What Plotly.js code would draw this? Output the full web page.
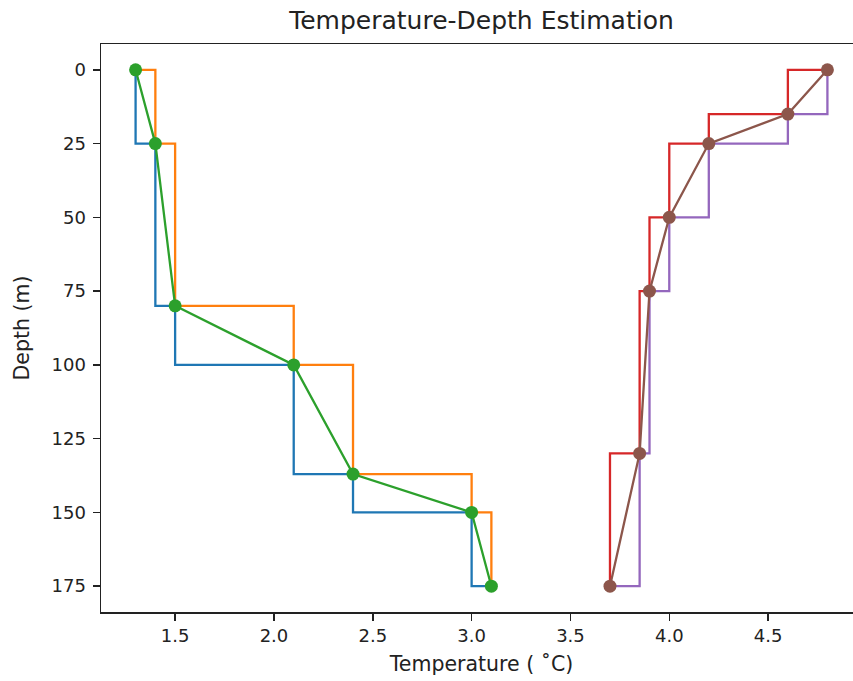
<!DOCTYPE html>
<html>
<head>
<meta charset="utf-8">
<script src="https://cdn.plot.ly/plotly-3.0.1.min.js"></script>
<style>
html, body { margin: 0; padding: 0; overflow: hidden; background: #fff; }
#chart { width: 880px; height: 681px; }
</style>
</head>
<body>
<div id="chart"></div>
<script>
// Left profile
const leftTemp = [1.3, 1.4, 1.5, 2.1, 2.4, 3.0, 3.1];
const leftDepth = [0, 25, 80, 100, 137, 150, 175];
// Right profile
const rightTemp = [4.8, 4.6, 4.2, 4.0, 3.9, 3.85, 3.7];
const rightDepth = [0, 15, 25, 50, 75, 130, 175];

const xTicks = [1.5, 2.0, 2.5, 3.0, 3.5, 4.0, 4.5];
const yTicks = [0, 25, 50, 75, 100, 125, 150, 175];

const LW = 2.3;
function stepTrace(x, y, shape, color) {
  return { x: x, y: y, type: 'scatter', mode: 'lines',
    line: { shape: shape, color: color, width: LW }, hoverinfo: 'skip' };
}
function pointTrace(x, y, color) {
  return { x: x, y: y, type: 'scatter', mode: 'lines+markers',
    line: { color: color, width: LW }, marker: { color: color, size: 13 }, hoverinfo: 'skip' };
}

const data = [
  stepTrace(leftTemp, leftDepth, 'vh', '#1f77b4'),
  stepTrace(leftTemp, leftDepth, 'hv', '#ff7f0e'),
  pointTrace(leftTemp, leftDepth, '#2ca02c'),
  stepTrace(rightTemp, rightDepth, 'hv', '#d62728'),
  stepTrace(rightTemp, rightDepth, 'vh', '#9467bd'),
  pointTrace(rightTemp, rightDepth, '#8c564b')
];

const axisCommon = {
  showgrid: false, zeroline: false, showline: true, mirror: true,
  linecolor: '#222', linewidth: 1.5, ticks: 'outside', ticklen: 7, tickwidth: 1.5,
  tickcolor: '#222', tickfont: { family: 'DejaVu Sans', size: 18, color: '#222' }
};

const layout = {
  width: 880, height: 681,
  margin: { l: 101, r: 18, t: 44, b: 69 },
  paper_bgcolor: '#fff', plot_bgcolor: '#fff',
  showlegend: false,
  font: { family: 'DejaVu Sans', color: '#222' },
  title: { text: 'Temperature-Depth Estimation', font: { family: 'DejaVu Sans', size: 25, color: '#222' },
    x: 0.5, xref: 'paper', y: 1 - 20/681, yanchor: 'middle' },
  xaxis: Object.assign({}, axisCommon, {
    range: [1.125, 4.975], tickvals: xTicks, ticktext: xTicks.map(v => v.toFixed(1)),
    title: { text: 'Temperature ( \u02DAC)', font: { family: 'DejaVu Sans', size: 20.5, color: '#222' }, standoff: 11 }
  }),
  yaxis: Object.assign({}, axisCommon, {
    range: [183.75, -8.75], tickvals: yTicks, ticklabelstandoff: 3,
    title: { text: 'Depth (m)', font: { family: 'DejaVu Sans', size: 20.5, color: '#222' }, standoff: 16 }
  })
};

Plotly.newPlot('chart', data, layout, { staticPlot: true, displayModeBar: false });
</script>
</body>
</html>
